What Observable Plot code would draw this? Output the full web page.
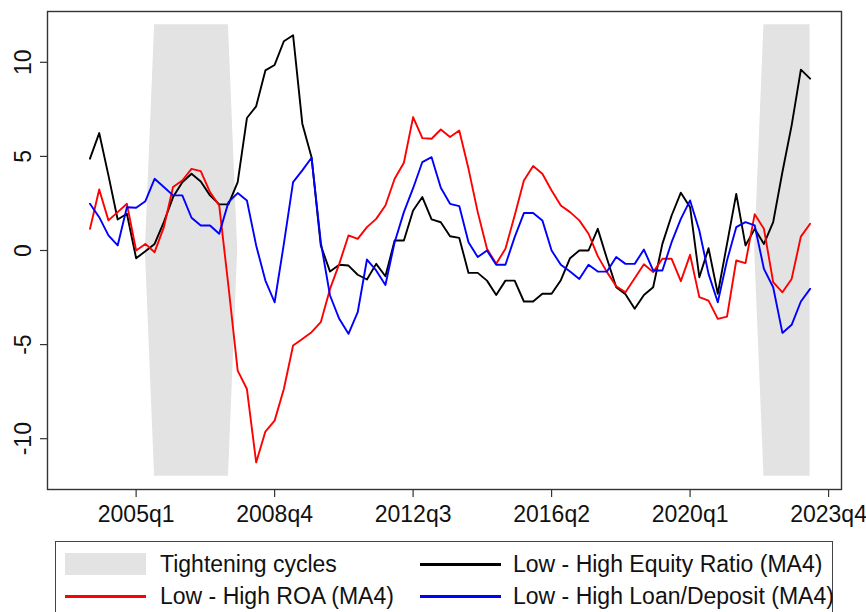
<!DOCTYPE html>
<html>
<head>
<meta charset="utf-8">
<script src="https://cdn.jsdelivr.net/npm/d3@7"></script>
<script src="https://cdn.jsdelivr.net/npm/@observablehq/plot@0.6"></script>
<style>
  html, body { margin: 0; padding: 0; background: #fff; }
  body { width: 866px; height: 612px; overflow: hidden; position: relative; font-family: "Liberation Sans", Arial, sans-serif; }
  #legend { position: absolute; left: 55px; top: 541px; width: 778px; height: 90px; border: 1px solid #444; box-sizing: border-box; background: #fff; }
  .item { position: absolute; display: flex; align-items: center; font-size: 23px; color: #111; white-space: nowrap; }
  .sw { width: 81px; }
</style>
</head>
<body>
<div id="chart"></div>
<div id="legend"></div>
<script>
// Stata quarterly index: 1960q1 = 0; data start 2003q4 = 175
const firstQuarter = 175;
const nQuarters = 79; // 2003q4 .. 2023q2

const equityRatio = [4.88, 6.24, 3.99, 1.65, 1.95, -0.41, -0.04, 0.35, 1.51, 2.84,
  3.63, 4.08, 3.67, 2.93, 2.45, 2.45, 3.63, 7.04, 7.66, 9.57,
  9.86, 11.12, 11.44, 6.74, 4.96, 0.27, -1.12, -0.76, -0.8, -1.29,
  -1.54, -0.71, -1.37, 0.53, 0.53, 2.13, 2.84, 1.65, 1.5, 0.76,
  0.67, -1.19, -1.19, -1.6, -2.36, -1.6, -1.6, -2.71, -2.71, -2.3,
  -2.3, -1.58, -0.41, 0, 0, 1.15, -0.44, -1.95, -2.33, -3.1,
  -2.36, -1.95, 0.35, 1.86, 3.07, 2.3, -1.42, 0.12, -2.3, 0.35,
  3.01, 0.27, 1.15, 0.35, 1.51, 4.17, 6.65, 9.61, 9.13];

const roa = [1.15, 3.24, 1.6, 2.04, 2.48, 0, 0.35, -0.09, 1.24, 3.37,
  3.72, 4.34, 4.22, 3.1, 2.39, -1.9, -6.38, -7.36, -11.26, -9.62,
  -9.04, -7.36, -5.05, -4.7, -4.34, -3.81, -2.04, -0.71, 0.8, 0.62,
  1.24, 1.68, 2.39, 3.81, 4.66, 7.09, 5.97, 5.94, 6.43, 6.03,
  6.38, 4.34, 2.04, 0.09, -0.71, 0.09, 1.86, 3.72, 4.49, 4.08,
  3.19, 2.39, 2.04, 1.6, 0.89, -0.3, -1.15, -1.9, -2.22, -1.47,
  -0.73, -1.15, -0.44, -0.44, -1.63, -0.23, -2.48, -2.66, -3.63, -3.51,
  -0.53, -0.67, 1.93, 1.15, -1.68, -2.22, -1.51, 0.74, 1.42];

const loanDeposit = [2.48, 1.77, 0.8, 0.27, 2.3, 2.27, 2.62, 3.81, 3.37, 2.93,
  2.93, 1.74, 1.33, 1.33, 0.89, 2.57, 3.05, 2.66, 0.27, -1.6,
  -2.75, 0.35, 3.63, 4.26, 4.93, 0.44, -2.39, -3.63, -4.43, -3.28,
  -0.48, -1.06, -1.83, 0.44, 2.04, 3.31, 4.7, 4.96, 3.33, 2.48,
  2.36, 0.44, -0.35, 0, -0.76, -0.76, 0.71, 1.99, 1.99, 1.6,
  0, -0.76, -1.12, -1.51, -0.76, -1.12, -1.12, -0.35, -0.71, -0.71,
  0.05, -1.06, -1.06, 0.44, 1.68, 2.66, 1.06, -1.24, -2.75, -0.53,
  1.24, 1.51, 1.33, -0.98, -1.95, -4.38, -3.95, -2.71, -2.04];

const tightening = [0, 0, 0, 0, 0, 0, 0, 1, 1, 1,
  1, 1, 1, 1, 1, 1, 0, 0, 0, 0,
  0, 0, 0, 0, 0, 0, 0, 0, 0, 0,
  0, 0, 0, 0, 0, 0, 0, 0, 0, 0,
  0, 0, 0, 0, 0, 0, 0, 0, 0, 0,
  0, 0, 0, 0, 0, 0, 0, 0, 0, 0,
  0, 0, 0, 0, 0, 0, 0, 0, 0, 0,
  0, 0, 0, 1, 1, 1, 1, 1, 1];

const shadeHeight = 12;
const xTicks = [180, 195, 210, 225, 240, 255]; // 2005q1 ... 2023q4
const yTicks = [-10, -5, 0, 5, 10];

const fmtQ = q => `${1960 + Math.floor(q / 4)}q${(q % 4) + 1}`;

const data = d3.range(nQuarters).map(i => ({
  q: firstQuarter + i,
  eq: equityRatio[i],
  roa: roa[i],
  ld: loanDeposit[i],
  sh: tightening[i]
}));

const font = "Liberation Sans, Arial, sans-serif";

const chart = Plot.plot({
  width: 866,
  height: 538,
  marginLeft: 47,
  marginRight: 25,
  marginTop: 11,
  marginBottom: 49,
  style: { fontFamily: font, fontSize: "23px", color: "#111", background: "#fff", overflow: "visible" },
  x: { type: "linear", domain: [170.4, 256.4], label: null },
  y: { domain: [-12.7, 12.7], label: null },
  marks: [
    Plot.areaY(data, { x: "q", y1: d => -shadeHeight * d.sh, y2: d => shadeHeight * d.sh, fill: "#e3e3e3", curve: "linear" }),
    Plot.lineY(data, { x: "q", y: "eq", stroke: "#000", strokeWidth: 1.9 }),
    Plot.lineY(data, { x: "q", y: "roa", stroke: "#ff0000", strokeWidth: 1.9 }),
    Plot.lineY(data, { x: "q", y: "ld", stroke: "#0000ff", strokeWidth: 1.9 }),
    Plot.axisX({ ticks: xTicks, tickFormat: fmtQ, tickSize: 8, tickPadding: 8, stroke: "#333", strokeWidth: 1.2, fontSize: 23, label: null }),
    Plot.axisY({ ticks: yTicks, tickSize: 7, tickFormat: () => "", stroke: "#333", strokeWidth: 1.2, label: null }),
    Plot.text(yTicks, { y: d => d, text: d => String(d), frameAnchor: "left", dx: -24, rotate: -90, textAnchor: "middle", lineAnchor: "middle", fontSize: 23, fill: "#111" }),
    Plot.frame({ stroke: "#333", strokeWidth: 1.4 })
  ]
});
document.getElementById("chart").appendChild(chart);

// Legend (HTML below the SVG)
const legendItems = [
  { label: "Tightening cycles", type: "rect", color: "#e3e3e3", left: 9, top: 10, gap: 14 },
  { label: "Low - High Equity Ratio (MA4)", type: "line", color: "#000", left: 364, top: 10, gap: 12 },
  { label: "Low - High ROA (MA4)", type: "line", color: "#ff0000", left: 9, top: 42, gap: 14 },
  { label: "Low - High Loan/Deposit (MA4)", type: "line", color: "#0000ff", left: 364, top: 42, gap: 12 }
];
const legend = document.getElementById("legend");
legendItems.forEach(it => {
  const div = document.createElement("div");
  div.className = "item";
  div.style.left = it.left + "px";
  div.style.top = it.top + "px";
  div.style.height = "24px";
  const sw = document.createElement("div");
  sw.className = "sw";
  sw.style.marginRight = it.gap + "px";
  if (it.type === "rect") { sw.style.height = "22px"; sw.style.background = it.color; }
  else { sw.style.height = "3px"; sw.style.background = it.color; }
  const tx = document.createElement("span");
  tx.textContent = it.label;
  div.appendChild(sw);
  div.appendChild(tx);
  legend.appendChild(div);
});
</script>
</body>
</html>
